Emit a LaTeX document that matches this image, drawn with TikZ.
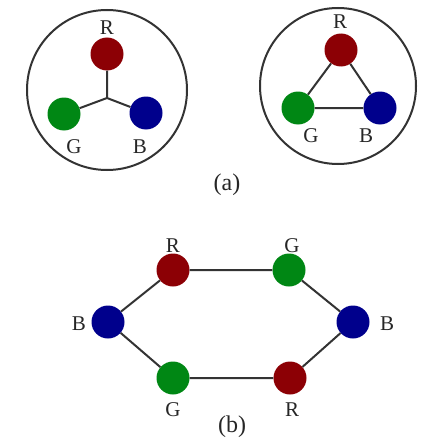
\documentclass[tikz,border=0pt]{standalone}
\usepackage{fontspec}
\setmainfont{Liberation Serif}
\definecolor{dred}{RGB}{140,0,5}
\definecolor{dgreen}{RGB}{0,135,20}
\definecolor{dblue}{RGB}{0,0,140}
\begin{document}
\begin{tikzpicture}[x=1pt,y=-1pt,
  dot/.style={circle,inner sep=0pt,minimum size=33pt},
  rdot/.style={dot,fill=dred},
  gdot/.style={dot,fill=dgreen},
  bdot/.style={dot,fill=dblue},
  lbl/.style={font=\fontsize{21}{21}\selectfont,inner sep=0pt,text=black!85},
  captionlbl/.style={font=\fontsize{24}{24}\selectfont,inner sep=0pt,text=black!85},
  edge/.style={draw=black!80,line width=2pt},
  ring/.style={draw=black!80,line width=2pt}]
\useasboundingbox (0,0) rectangle (423,444);
% (a) left
\node[ring,circle,minimum size=160pt,inner sep=0pt] (c1) at (107,90) {};
\coordinate (j) at (107,98);
\node[rdot] (r1) at (107,54) {};
\node[gdot] (g1) at (64,114) {};
\node[bdot] (b1) at (146,113) {};
\draw[edge] (r1) -- (j) (j) -- (g1) (j) -- (b1);
\node[lbl] (lr1) at (107,28) {R};
\node[lbl] (lg1) at (74,147) {G};
\node[lbl] (lb1) at (140,147) {B};
% (a) right
\node[ring,circle,minimum size=156pt,inner sep=0pt] (c2) at (338,86) {};
\node[rdot] (r2) at (341,50) {};
\node[gdot] (g2) at (298,108) {};
\node[bdot] (b2) at (380,108) {};
\draw[edge] (r2) -- (g2) -- (b2) -- (r2);
\node[lbl] (lr2) at (340,22) {R};
\node[lbl] (lg2) at (311,136) {G};
\node[lbl] (lb2) at (366,136) {B};
\node[captionlbl] (la) at (227,185) {(a)};
% (b)
\node[rdot] (r3) at (173,270) {};
\node[gdot] (g3) at (289,270) {};
\node[bdot] (b3) at (108,322) {};
\node[bdot] (b4) at (353,322) {};
\node[gdot] (g4) at (173,378) {};
\node[rdot] (r4) at (290,378) {};
\draw[edge] (r3) -- (g3) -- (b4) -- (r4) -- (g4) -- (b3) -- (r3);
\node[lbl] (lr3) at (173,246) {R};
\node[lbl] (lg3) at (292,246) {G};
\node[lbl] (lb3) at (79,324) {B};
\node[lbl] (lb4) at (387,324) {B};
\node[lbl] (lg4) at (173,410) {G};
\node[lbl] (lr4) at (292,410) {R};
\node[captionlbl] (lbb) at (232,427) {(b)};
\end{tikzpicture}
\end{document}
